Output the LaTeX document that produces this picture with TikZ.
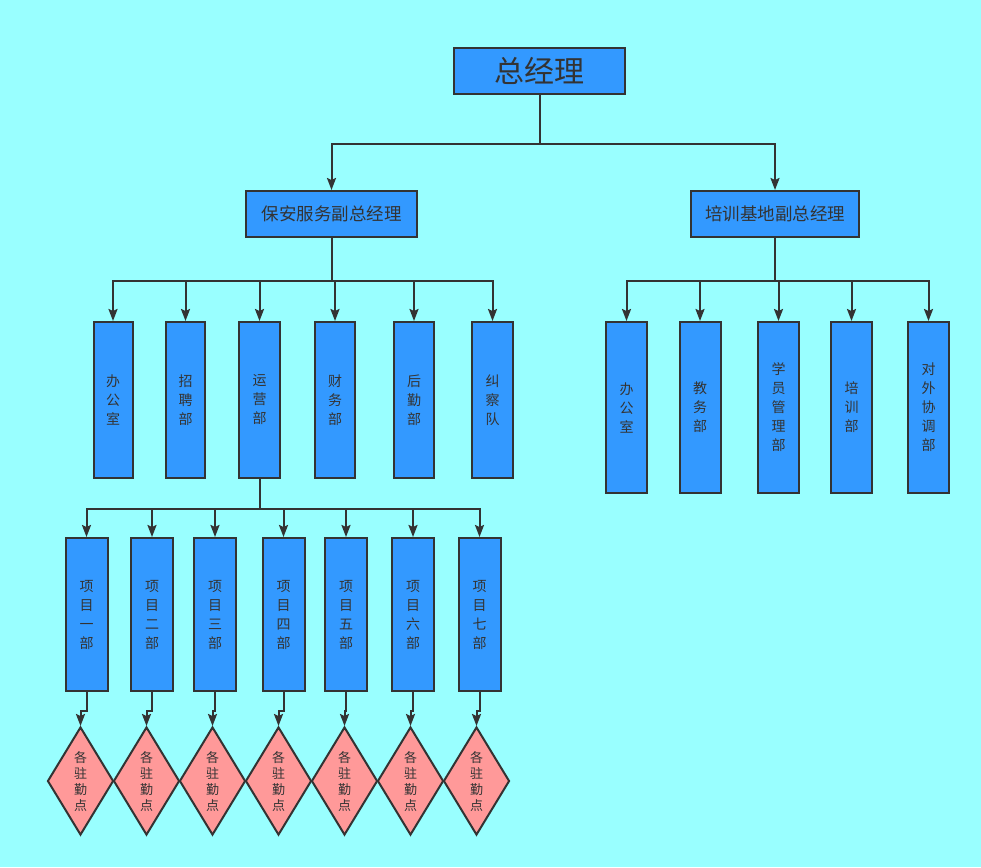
\documentclass[tikz,border=0pt]{standalone}
\usepackage{fontspec}
\setmainfont{Noto Sans CJK SC}
\usetikzlibrary{shapes.geometric,arrows.meta}
\definecolor{bgcyan}{HTML}{99FFFF}
\definecolor{boxblue}{HTML}{3399FF}
\definecolor{spotpink}{HTML}{FF9999}
\definecolor{linegray}{HTML}{333333}
\begin{document}
\begin{tikzpicture}[>={Stealth[length=12pt,width=9pt,inset=2pt]},x=1pt,y=-1pt,
		box/.style={draw=linegray,fill=boxblue,line width=2pt,inner sep=0pt,text=linegray},
		dept/.style={box,minimum width=41pt,align=center,font=\fontsize{14}{19}\selectfont},
		spot/.style={draw=linegray,fill=spotpink,line width=2pt,diamond,aspect=0.6,inner sep=0pt,minimum width=66pt,minimum height=108pt,align=center,text=linegray,font=\fontsize{13}{16}\selectfont},
		link/.style={->,draw=linegray,line width=2pt}]
		\useasboundingbox (0,0) rectangle (981,867);
		\fill[bgcyan] (0,0) rectangle (981,867);
		\node[box,minimum width=171pt,minimum height=46pt,font=\fontsize{30}{36}\selectfont] (boss) at (539.5,71) {总经理};
		\node[box,minimum width=171pt,minimum height=46pt,font=\fontsize{17.5}{20}\selectfont] (vpsec) at (331.5,214) {保安服务副总经理};
		\node[box,minimum width=168pt,minimum height=46pt,font=\fontsize{17.5}{20}\selectfont] (vptrain) at (775,214) {培训基地副总经理};
		\draw[link] (boss.south) -- ++(0,49) -| (vpsec.north);
		\draw[link] (boss.south) -- ++(0,49) -| (vptrain.north);
		\node[dept,minimum width=39pt,minimum height=156pt] (office) at (113,400) {办\\公\\室};
		\node[dept,minimum width=39pt,minimum height=156pt] (hire) at (185.5,400) {招\\聘\\部};
		\node[dept,minimum width=41pt,minimum height=156pt] (ops) at (259.5,400) {运\\营\\部};
		\node[dept,minimum width=40pt,minimum height=156pt] (finance) at (335,400) {财\\务\\部};
		\node[dept,minimum width=40pt,minimum height=156pt] (logist) at (414,400) {后\\勤\\部};
		\node[dept,minimum width=41pt,minimum height=156pt] (patrol) at (492.5,400) {纠\\察\\队};
		\foreach \d in {office,hire,ops,finance,logist,patrol}
			\draw[link] (vpsec.south) -- ++(0,43) -| (\d.north);
		\node[dept,minimum height=171pt] (toffice) at (626.5,407.5) {办\\公\\室};
		\node[dept,minimum height=171pt] (teach) at (700,407.5) {教\\务\\部};
		\node[dept,minimum height=171pt] (student) at (778.5,407.5) {学\\员\\管\\理\\部};
		\node[dept,minimum height=171pt] (train) at (851.5,407.5) {培\\训\\部};
		\node[dept,minimum height=171pt] (extern) at (928.5,407.5) {对\\外\\协\\调\\部};
		\foreach \d in {toffice,teach,student,train,extern}
			\draw[link] (vptrain.south) -- ++(0,43) -| (\d.north);
		\node[dept,minimum width=42pt,minimum height=153pt] (p1) at (86.5,614.5) {项\\目\\一\\部};
		\node[dept,minimum width=42pt,minimum height=153pt] (p2) at (152,614.5) {项\\目\\二\\部};
		\node[dept,minimum width=42pt,minimum height=153pt] (p3) at (215,614.5) {项\\目\\三\\部};
		\node[dept,minimum width=42pt,minimum height=153pt] (p4) at (283.5,614.5) {项\\目\\四\\部};
		\node[dept,minimum width=42pt,minimum height=153pt] (p5) at (346,614.5) {项\\目\\五\\部};
		\node[dept,minimum width=42pt,minimum height=153pt] (p6) at (413,614.5) {项\\目\\六\\部};
		\node[dept,minimum width=42pt,minimum height=153pt] (p7) at (479.5,614.5) {项\\目\\七\\部};
		\foreach \i/\x in {1/80.5,2/146.5,3/212.5,4/278.5,5/344.5,6/410.5,7/476.5} {
			\node[spot] (s\i) at (\x,781) {各\\驻\\勤\\点};
			\draw[link] (ops.south) -- ++(0,30) -| (p\i.north);
			\draw[link] (p\i.south) -- ++(0,19) -| (s\i.north);
		}
		\end{tikzpicture}
\end{document}
